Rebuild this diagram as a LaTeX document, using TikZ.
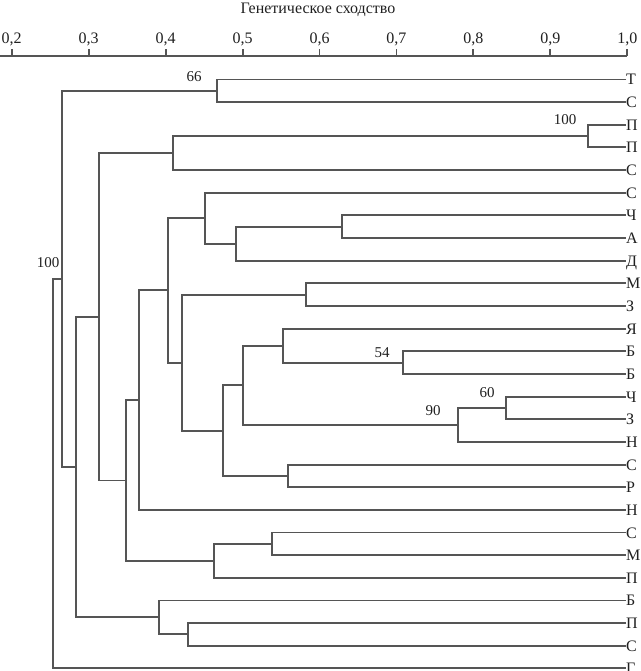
\documentclass[tikz,border=0pt]{standalone}
\usepackage{fontspec}
\setmainfont{Liberation Serif}
\usetikzlibrary{calc}
\definecolor{ln}{HTML}{555555}
\definecolor{tx}{HTML}{202020}
\newcommand\clade[4]{%
  \coordinate (m#1) at ($(#3)!.5!(#4)$);
  \coordinate (#1) at (#2,0 |- m#1);
  \draw[br] (#3) -| (#1) |- (#4);}
\begin{document}
\begin{tikzpicture}[x=1pt,y=-1pt,
  br/.style={draw=ln,line width=1.9pt},
  leaf/.style={anchor=west,inner sep=0pt,text=tx,font=\fontsize{16}{18}\selectfont,text height=11pt,text depth=0pt},
  boot/.style={inner sep=0pt,text=tx,font=\fontsize{15}{17}\selectfont},
  tick/.style={inner sep=0pt,text=tx,font=\fontsize{16}{18}\selectfont}]
\useasboundingbox (0,0) rectangle (640,671);
\fill[white] (0,0) rectangle (640,671);
% axis
\node[tick] (title) at (318,10) {Генетическое сходство};
\coordinate (ax0) at (0,56);
\coordinate (ax1) at (627.3,56);
\draw[br] (ax0) -- (ax1);
\foreach \v/\t [count=\k] in {0.2/{0,2},0.3/{0,3},0.4/{0,4},0.5/{0,5},0.6/{0,6},0.7/{0,7},0.8/{0,8},0.9/{0,9},1.0/{1,0}}{
  \pgfmathsetmacro\xx{11.7+(\v-0.2)*769.5}
  \coordinate (tb\k) at (\xx,56);
  \coordinate (tt\k) at (\xx,49);
  \draw[br] (tb\k) -- (tt\k);
  \node[tick] (tl\k) at (\xx,39) {\t};
}
% leaves
\foreach \lab [count=\i from 0] in {Т,С,П,П,С,С,Ч,А,Д,М,З,Я,Б,Б,Ч,З,Н,С,Р,Н,С,М,П,Б,П,С,Г}{
  \pgfmathsetmacro\yy{79.5+22.65*\i}
  \node[leaf] (l\i) at (626,\yy) {\lab};
}
% tree
\clade{n66}{216.7}{l0.west}{l1.west}
\clade{p100}{588.3}{l2.west}{l3.west}
\clade{a41}{173.3}{p100}{l4.west}
\clade{nb}{341.7}{l6.west}{l7.west}
\clade{nc}{236}{nb}{l8.west}
\clade{nd}{205}{l5.west}{nc}
\clade{ne}{305.7}{l9.west}{l10.west}
\clade{f54}{402.7}{l12.west}{l13.west}
\clade{ng}{283.3}{l11.west}{f54}
\clade{h60}{505.7}{l14.west}{l15.west}
\clade{i90}{458.3}{h60}{l16.west}
\clade{nj}{243.3}{ng}{i90}
\clade{nk}{288.3}{l17.west}{l18.west}
\clade{nm}{223.3}{nj}{nk}
\clade{nn}{181.7}{ne}{nm}
\clade{no}{167.7}{nd}{nn}
\clade{nq}{139.3}{no}{l19.west}
\clade{nr}{271.7}{l20.west}{l21.west}
\clade{ns}{214.3}{nr}{l22.west}
\clade{nt}{125.7}{nq}{ns}
\clade{nu}{98.7}{a41}{nt}
\clade{nv}{187.7}{l24.west}{l25.west}
\clade{nw}{159}{l23.west}{nv}
\clade{nx}{76}{nu}{nw}
\clade{ny}{61.7}{n66}{nx}
\clade{root}{52.7}{ny}{l26.west}
% bootstrap values
\node[boot] (b66) at (194,77) {66};
\node[boot] (b100a) at (565,120) {100};
\node[boot] (b54) at (382,353) {54};
\node[boot] (b90) at (433,411) {90};
\node[boot] (b60) at (487,393) {60};
\node[boot] (b100b) at (48,263) {100};
\end{tikzpicture}
\end{document}
